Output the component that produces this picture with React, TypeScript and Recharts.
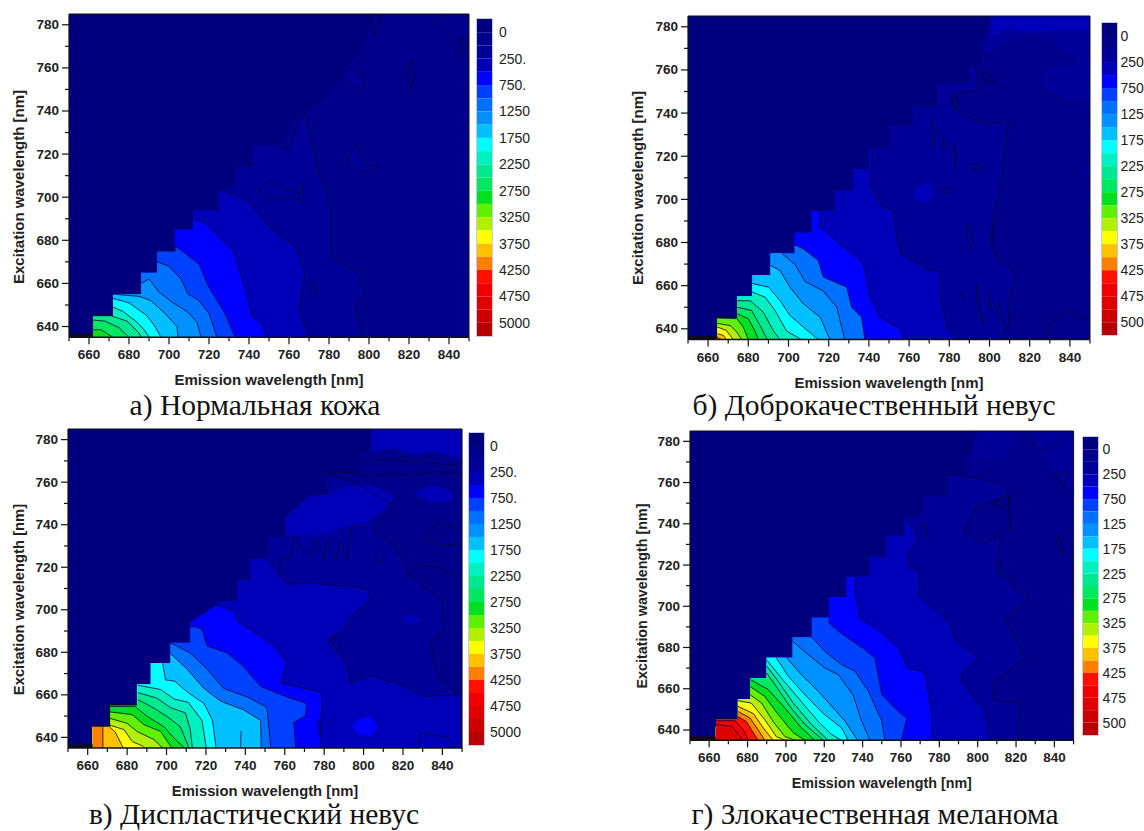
import { Area, Bar, BarChart, ComposedChart, Line, ReferenceLine, XAxis, YAxis } from 'recharts';

// colour of each contour band, top of the colour scale first
const bandColors = [
  '#00007f', '#00008a', '#000098', '#0000b8', '#0000ff', '#0040ff', '#0070ff', '#0090ff',
  '#00c0ff', '#00ffff', '#00f0c0', '#00e890', '#00e860', '#00e020', '#60f000', '#b0f000',
  '#ffff00', '#ffc000', '#ff8000', '#ff1000', '#f00000', '#e00000', '#cc0000', '#b40000',
];
const scaleTicks = [1, 3, 5, 7, 9, 11, 13, 15, 17, 19, 21, 23];
const scaleLabelsLong = ['0', '250.', '750.', '1250', '1750', '2250', '2750', '3250', '3750', '4250', '4750', '5000'];
const scaleLabelsShort = ['0', '250', '750', '125', '175', '225', '275', '325', '375', '425', '475', '500'];
const emissionTicks = [650, 660, 670, 680, 690, 700, 710, 720, 730, 740, 750, 760, 770, 780, 790, 800, 810, 820, 830, 840, 850];
const excitationTicks = [640, 650, 660, 670, 680, 690, 700, 710, 720, 730, 740, 750, 760, 770, 780];

// [emission, excitation] edge of the measured region
const stairA = [[662, 635], [662, 645], [672, 645], [672, 655], [686, 655], [686, 665], [694, 665], [694, 675], [703, 675], [703, 685], [712, 685], [712, 694], [725, 694], [725, 704], [733, 704], [733, 714], [742, 714], [742, 724], [755, 724]];
const stairB = [[664.6, 635], [664.6, 645], [674.5, 645], [674.5, 655], [682, 655], [682, 665], [691, 665], [691, 675], [703, 675], [703, 684.5], [711.5, 684.5], [711.5, 695], [723, 695], [723, 704], [732, 704], [732, 714], [740, 714], [740, 724], [750.5, 724], [750.5, 734], [762, 734], [762, 743], [774, 743], [774, 754], [790, 754], [790, 763], [796, 763], [796, 772], [801, 772], [801, 785]];
const stairC = [[662.5, 635], [662.5, 645], [671, 645], [671, 655], [685, 655], [685, 665], [692, 665], [692, 675], [702, 675], [702, 684.5], [712, 684.5], [712, 694], [726, 694], [726, 704], [736, 704], [736, 714], [742.5, 714], [742.5, 724], [751, 724], [751, 734], [760.5, 734], [760.5, 744], [772, 744], [772, 754], [781.5, 754], [781.5, 764], [798, 764], [798, 774.5], [804, 774.5], [804, 785]];
const stairD = [[663.4, 635], [663.6, 645], [675, 645], [675, 655], [681.5, 655], [681.5, 665], [690, 665], [690, 675], [703.5, 675], [703.5, 685], [713.5, 685], [713.5, 694.5], [722.5, 694.5], [722.5, 704.5], [731.7, 704.5], [731.7, 714.5], [743.8, 714.5], [743.8, 724], [752.5, 724], [752.5, 734], [762, 734], [762, 743.6], [771, 743.6], [771, 753.5], [784.5, 753.5], [784.5, 764], [793.5, 764], [793.5, 773.5], [800.3, 773.5], [800.3, 785]];

// [band, points]: the first point sits on the stair, the rest follow the contour down to the axis
const contoursA: [number, number[][]][] = [
  [1, [[755, 724], [762, 735], [778, 745], [785, 755], [797, 770], [803, 785], [850, 785], [850, 635]]],
  [2, [[755, 724], [760, 722], [765, 735], [768, 739], [771, 728], [775, 710], [778, 705], [781, 693], [781, 674], [785, 670], [794, 665], [798, 655], [793, 648], [797, 635]]],
  [3, [[725, 704], [733, 701], [741, 697], [749, 687], [763, 677], [768, 665], [765, 649], [769, 637], [769, 635]]],
  [4, [[712, 690], [718, 688], [732, 675], [739, 655], [741, 645], [746, 642], [749, 635]]],
  [5, [[694, 675], [703, 675], [703, 677.5], [709.5, 673], [715, 669], [719.5, 659], [728, 646], [733, 635]]],
  [6, [[694, 670], [700, 668], [706, 662], [709.5, 655], [714.5, 652.5], [720, 646], [724, 635]]],
  [7, [[686, 660], [690, 662], [695, 656], [702, 651], [709, 647], [714, 642], [716, 635]]],
  [8, [[672, 655], [685, 654], [691, 652], [698, 646], [704, 640], [704.5, 635]]],
  [9, [[672, 653], [680, 651], [689, 645], [693, 640], [696, 635]]],
  [10, [[672, 649], [677, 647], [684, 642], [688, 638], [690, 635]]],
  [11, [[662, 645], [671, 645], [679, 642.5], [685, 637], [686, 635]]],
  [12, [[662, 643], [668, 642.5], [675, 639.5], [680, 635]]],
  [13, [[662, 638.5], [666, 638.5], [672, 635]]],
];
const contoursB: [number, number[][]][] = [
  [1, [[801, 785], [850, 785], [850, 635]]],
  [2, [[790, 763], [793.6, 761.4], [794.4, 750.5], [783.7, 749], [780.3, 744.4], [788.6, 738.2], [798.6, 735], [809.4, 735.8], [806, 710.3], [802.7, 691.8], [800.2, 682.5], [803.6, 671.7], [808.5, 670.2], [813.5, 664], [810.2, 656.3], [809.4, 642.3], [805.2, 635]]],
  [3, [[740, 724], [742, 724], [740.5, 705.7], [747.2, 696.4], [752.2, 695], [753.8, 682.5], [756.3, 674.8], [768.7, 667.8], [775.4, 666.3], [776.2, 651.6], [778.7, 640.8], [784.5, 635]]],
  [4, [[711.5, 695], [715.7, 695], [715.7, 687], [725.6, 679.4], [737.2, 670.2], [740.5, 654.7], [745.5, 645.4], [756.3, 639.2], [757.5, 635]]],
  [6, [[703, 679], [707.4, 677], [714.8, 671.7], [717.3, 664], [729, 659.3], [731.4, 650], [736.4, 645.4], [738, 635]]],
  [7, [[696.6, 675], [703.2, 670], [708.2, 662], [717.3, 657.5], [724, 650], [728, 635]]],
  [8, [[691, 669.4], [695.8, 667], [700.7, 659.3], [707.4, 651.6], [715.7, 645.4], [720.6, 635]]],
  [9, [[682, 661], [690, 659.3], [695.8, 653], [700.7, 646.2], [707.4, 640.8], [714.8, 635]]],
  [10, [[682, 657], [688.3, 654.7], [693.3, 648.5], [699, 639], [706.5, 635]]],
  [11, [[674.5, 653], [681, 653], [687.5, 647.7], [692.5, 639], [695.8, 635]]],
  [12, [[674.5, 650], [681.7, 648.5], [685.8, 641.6], [689.5, 635]]],
  [13, [[674.5, 647], [680, 644.7], [683.3, 639], [685, 635]]],
  [14, [[664.6, 645], [674.3, 644.7], [677.5, 640.8], [680, 635]]],
  [15, [[664.6, 642.5], [671, 641.5], [674.3, 638.5], [676.7, 635]]],
  [16, [[664.6, 640.8], [669, 639.3], [672.5, 635]]],
  [17, [[664.6, 637.7], [667.6, 637], [669, 635]]],
  [18, [[664.6, 636], [666.8, 635]]],
];
const contoursC: [number, number[][]][] = [
  [1, [[804, 785], [850, 785], [850, 635]]],
  [2, [[781.5, 764], [795, 760], [815, 749], [805, 738], [815, 730], [825, 715], [840, 704], [841, 691], [834, 685], [837, 669], [850, 658], [850, 635]]],
  [3, [[751, 724], [757, 717], [761, 712], [773, 712.5], [791.7, 711], [802, 709.5], [803.5, 704.7], [793.4, 697], [790, 690.6], [782, 686], [786, 681.3], [790, 676.5], [793.4, 665.6], [803.5, 669], [821, 664], [830.6, 659.3], [850, 660], [850, 635]]],
  [4, [[725.7, 702.4], [734, 699.3], [736.7, 694], [747.7, 687.5], [754.5, 683], [761, 675], [758, 665.6], [779, 661], [778, 636], [778, 635]]],
  [5, [[712, 692], [714.7, 692], [718, 690.7], [720.6, 683], [730.8, 679.7], [739, 673.4], [747.7, 664], [761, 659], [771, 656], [770.5, 650], [764.6, 647], [765.5, 636], [765.5, 635]]],
  [6, [[702, 684.4], [712, 679.7], [720.6, 672], [729, 663], [741, 659], [751, 654], [752.8, 636], [752.8, 635]]],
  [8, [[702, 679.4], [710.5, 672], [719, 663], [727.5, 657], [739, 653], [747.7, 648], [748, 636], [748, 635]]],
  [9, [[698, 675], [699.5, 667], [704, 666.5], [711, 661], [719, 656], [723.3, 648], [725, 636], [725, 635]]],
  [10, [[685.5, 664.5], [697, 662.5], [704, 658], [711, 656.5], [718, 648], [720, 636], [720, 635]]],
  [11, [[685.5, 661], [695, 658.5], [702, 654], [709.6, 651.5], [712, 644], [713, 636], [713, 635]]],
  [12, [[685.5, 657.7], [692, 654.6], [700, 650], [707, 645], [711, 636], [711, 635]]],
  [13, [[671, 654.5], [684, 654.5], [690, 650], [698.7, 645], [704.5, 639], [708, 636], [709, 635]]],
  [14, [[671, 652], [682.6, 650.7], [688.5, 646], [697, 642.8], [702, 636], [703, 635]]],
  [15, [[671, 649], [680, 646.6], [685, 642.8], [693.5, 639], [697, 636], [698, 635]]],
  [16, [[671, 645.8], [678.5, 643.6], [682.6, 638], [687.7, 636], [689, 635]]],
  [17, [[671, 645], [674, 642.5], [677.5, 636], [678, 635]]],
  [18, [[667.7, 645], [667.7, 635]]],
];
const contoursD: [number, number[][]][] = [
  [1, [[800.3, 785], [850, 785], [850, 635]]],
  [2, [[784.5, 764], [789, 763.8], [811.6, 759.8], [816, 755.7], [812.5, 751.7], [799.5, 748.5], [792.5, 736.4], [802, 729.9], [811.6, 734.6], [810, 717], [826.4, 704], [814.3, 693.8], [824.6, 675], [808, 662.8], [808, 654.7], [822, 653], [821, 635]]],
  [3, [[762, 743.6], [767, 736], [769, 733], [763, 725], [764.8, 718.6], [769.9, 717], [769, 705.6], [784.7, 692.7], [789, 683], [800.3, 675], [791.6, 667.6], [791.6, 663.7], [803.8, 649], [806.4, 635]]],
  [4, [[731.7, 714.5], [736, 714.5], [736, 705.6], [738.6, 694.3], [749, 687.9], [758.6, 679.8], [763.8, 670], [772.5, 667.7], [776, 647.5], [776.3, 635]]],
  [5, [[722.5, 694.5], [722.5, 691.9], [727.3, 687.9], [741, 679], [746.4, 675], [750, 657.1], [758.6, 649], [763, 645.8], [760.3, 635]]],
  [6, [[713.5, 685], [720.4, 678], [729, 671.7], [736, 668.5], [743, 658.8], [750, 644.3], [751.6, 635]]],
  [7, [[703.5, 683], [711.7, 676.5], [720.4, 670], [727.3, 666.9], [735, 657], [739.5, 644.3], [743.8, 635]]],
  [8, [[700.4, 675], [708, 666.9], [716.9, 658.8], [724.7, 650.7], [730.8, 644.3], [737.4, 635]]],
  [9, [[695, 675], [701.3, 666], [710, 657], [719.5, 648], [729, 641], [732.5, 635]]],
  [10, [[690, 674], [697.8, 665], [706.5, 655.5], [717, 644], [723.8, 637.8], [729, 635]]],
  [11, [[690, 671], [696, 663.6], [703.9, 653], [713.4, 642.6], [722, 635]]],
  [12, [[690, 667.6], [694.3, 662], [702, 651.5], [710, 642.6], [719.5, 635]]],
  [13, [[681.5, 664.4], [690.8, 659.6], [699.5, 650.7], [707.3, 641.8], [715, 635]]],
  [14, [[681.5, 661], [689, 656.3], [696, 647.5], [703.9, 638.6], [710, 635]]],
  [15, [[681.5, 657], [687.4, 653], [693.4, 644], [699.5, 636.8], [704.7, 635]]],
  [16, [[675, 654.2], [682, 653], [689, 645], [695, 636.8], [699.5, 635]]],
  [17, [[675, 651.5], [683, 648], [688.2, 641], [693.4, 635]]],
  [18, [[675, 649], [681.3, 645.8], [685.6, 640], [689, 635]]],
  [19, [[675, 646.5], [679.5, 644], [683, 638.6], [685.6, 635]]],
  [20, [[663.6, 644.5], [673.5, 644.5], [678.3, 639.4], [680.4, 635]]],
  [21, [[663.6, 642.6], [671.7, 641.8], [676, 637], [677, 635]]],
];

// [band, [emission, lower excitation, upper excitation]]: patches away from the main contours
const patchesA: [number, number[][]][] = [
  [2, [[786, 755, 755], [790, 752, 760], [797, 749, 757], [798, 753, 753]]],
  [2, [[789, 716, 716], [793, 712, 724], [799, 712, 715], [805, 714, 714]]],
];
const patchesB: [number, number[][]][] = [
  [2, [[796.9, 769, 772], [801, 768, 785], [807.7, 772, 785], [821.8, 776, 785], [830, 773.7, 785], [841.7, 766, 785], [845, 764.4, 785], [849.5, 767.5, 785]]],
  [3, [[801, 776, 785], [809.3, 779, 785], [821.8, 777.6, 785], [831.8, 778.4, 785], [849.5, 778.4, 785]]],
  [2, [[826, 755, 756], [830, 750.5, 761.5], [840, 746, 761.5], [848, 746, 768], [849.5, 746, 768]]],
  [2, [[847, 711, 712], [849.5, 712, 721]]],
  [3, [[762, 703, 703], [764, 699, 706], [770, 699, 708], [772, 702, 705]]],
];
const patchesC: [number, number[][]][] = [
  [3, [[804, 774.5, 785], [815, 776, 785], [825, 773, 785], [835.7, 774.5, 785], [849.5, 771, 785]]],
  [3, [[760.5, 735.3, 743.6], [772.2, 734.5, 753.3], [781.5, 736, 754], [790, 739.2, 758], [801.9, 740, 758.8], [808.6, 745.5, 756.5], [815.4, 753, 754]]],
  [3, [[825.5, 754.5, 754.5], [835, 750.5, 758.6], [844, 751, 756], [845.5, 753, 753]]],
  [4, [[794, 645.5, 645.5], [798, 641, 649], [804, 641, 650], [807, 645, 645]]],
  [3, [[819.6, 695.5, 695.5], [824, 693, 698], [830, 695.5, 695.5]]],
];
const patchesD: [number, number[][]][] = [
  [2, [[797, 766, 773.5], [800.3, 772, 785], [808, 771, 785], [815, 774, 785], [820, 779, 785]]],
  [2, [[830, 779, 782], [837, 770, 785], [843, 762, 785], [850, 755, 785]]],
];

// thin isolines that close on themselves or run alone
const linesA = [
  [[786, 755], [790, 760], [797, 757], [797, 749], [792, 752], [786, 755]],
  [[819, 757], [821, 763], [823, 757], [821, 750], [819, 757]],
  [[789, 716], [793, 724], [799, 715], [805, 714], [797, 712], [789, 716]],
  [[745, 703], [750, 708], [758, 704], [765, 702], [767, 706], [767, 698], [762, 700], [752, 699], [745, 703]],
  [[770, 662], [772, 661], [774, 656], [771, 654], [770, 662]],
  [[800, 785], [803, 775], [806, 785]],
  [[832, 780], [838, 785]],
  [[846, 775], [850, 770], [845, 765], [846, 775]],
];
const linesB = [
  [[781, 747], [783, 749], [784.5, 744], [782.5, 741], [781, 747]],
  [[771, 736.5], [773.6, 730], [771.8, 725], [771, 736.5]],
  [[777, 729], [778, 726], [777, 723], [777, 729]],
  [[782, 726], [784, 720], [783, 714], [782, 726]],
  [[790, 716.5], [794, 716], [798.5, 714.5], [792, 713.5], [790, 716.5]],
  [[776, 704], [780, 705.7], [781, 703.5], [777, 702.6], [776, 704]],
  [[789, 688.7], [792, 682], [790.5, 676.4], [789, 682], [789, 688.7]],
  [[755.5, 679], [756, 674]],
  [[802, 692], [801, 680]],
  [[793.6, 661], [797, 642], [794, 650], [793.6, 661]],
  [[786.5, 657], [788, 653], [786, 655], [786.5, 657]],
  [[800, 656], [801.5, 648], [799.5, 651], [800, 656]],
  [[804.5, 653], [807.7, 642], [804, 647], [804.5, 653]],
  [[828.4, 635], [828.4, 641], [838, 648.5], [846.7, 644.7], [849.5, 645.5]],
  [[796, 760], [798, 754], [802.7, 755], [799, 758], [796, 760]],
];
const linesC = [
  [[757, 717], [757.9, 724.3], [763, 724.3], [764.6, 734.5], [768.9, 728.3], [774, 726], [776.5, 733], [779.9, 723.6], [781.5, 733], [785.8, 723.6], [788.3, 732.2], [791.7, 723.6], [794.2, 739.2], [802, 741], [808.6, 745.5]],
  [[782, 684], [785, 687], [789, 684], [785, 680], [782, 684]],
  [[805, 725], [808, 728], [811, 725], [808, 721], [805, 725]],
  [[830, 733], [838, 741], [849, 738]],
  [[830, 733], [839, 730], [849, 731]],
  [[820, 714], [828, 721], [838, 720], [846, 716]],
  [[828, 636], [829, 642], [843, 640], [846, 636]],
  [[781.5, 764], [792, 764.5], [802, 763], [815, 764], [825, 763], [835.7, 765], [849.5, 764]],
  [[800, 770], [815, 770.5], [832, 769], [849, 768]],
  [[737.6, 635.5], [737.8, 643]],
  [[777.5, 641], [778.5, 645], [777, 648], [777.5, 641]],
];
const linesD = [
  [[815, 754], [818, 751], [813, 748], [806, 750], [815, 754]],
  [[816, 754], [817, 736], [816.5, 745], [816, 754]],
  [[842, 735], [845, 725], [841, 730], [842, 735]],
  [[840, 764], [845, 758], [847, 765], [840, 764]],
  [[770, 738], [773, 741], [774, 734], [771, 734], [770, 738]],
  [[812, 722], [812.5, 714]],
  [[826, 780], [836, 775], [845, 782]],
];

// dark edge along the lowest stair steps
const stripA = [[650, 636], [662, 636]];
const stripB = [[650, 636], [664.6, 636]];
const stripC = [[650, 636], [662.5, 636]];
const stripD = [[650, 636], [663.4, 636]];
const edgeA = [[662, 645.3], [672, 645.3]];
const edgeB = [[664.6, 645.4], [674.5, 645.4]];
const edgeC = [[662.5, 645.4], [671, 645.4], [671, 655.3], [685, 655.3]];
const edgeD = [[663.6, 645.4], [675, 645.4]];

const SANS = '"Liberation Sans", Arial, sans-serif';
const LINE = '#05053c';

function levelPoints(stair: number[][], contour: number[][]) {
  const [sx, sy] = contour[0];
  const lead = stair.filter(([x, y]) => x <= sx && y <= sy);
  return [...lead, ...contour].map(([x, y]) => ({ x, y }));
}

const toXY = (pts: number[][]) => pts.map(([x, y]) => ({ x, y }));
const toRange = (pts: number[][]) => pts.map(([x, lo, hi]) => ({ x, y: [lo, hi] }));

function EmissionTick({ x, y, payload }: any) {
  const major = (payload.value - 660) % 20 === 0;
  return (
    <g>
      <line x1={x} x2={x} y1={y} y2={y + (major ? 7 : 4)} stroke="#111" strokeWidth={1.2} />
      {major && (
        <text x={x} y={y + 22} textAnchor="middle" fontSize={13.5} fontWeight="bold" fontFamily={SANS} fill="#222">
          {payload.value}
        </text>
      )}
    </g>
  );
}

function ExcitationTick({ x, y, payload }: any) {
  const major = (payload.value - 640) % 20 === 0;
  return (
    <g>
      <line x1={x} x2={x - (major ? 7 : 4)} y1={y} y2={y} stroke="#111" strokeWidth={1.2} />
      {major && (
        <text x={x - 10} y={y + 4.5} textAnchor="end" fontSize={13.5} fontWeight="bold" fontFamily={SANS} fill="#222">
          {payload.value}
        </text>
      )}
    </g>
  );
}

const scaleRow = [Object.fromEntries(bandColors.map((_, i) => [`b${i}`, 1]))];

function ColorScale({ left, top, height, clip, labelAt, labels }: any) {
  const barWidth = 15;
  return (
    <div style={{ position: 'absolute', left, top, width: clip - left, height }}>
      <BarChart width={clip - left} height={height} data={scaleRow} margin={{ top: 0, right: 0, bottom: 0, left: 0 }} barCategoryGap={0}>
        <XAxis hide />
        <YAxis
          orientation="right"
          reversed
          width={clip - left - barWidth}
          domain={[0, 24]}
          ticks={scaleTicks}
          interval={0}
          axisLine={false}
          tickLine={false}
          tickSize={0}
          tickMargin={labelAt - left - barWidth}
          tickFormatter={(v: number) => labels[scaleTicks.indexOf(v)]}
          tick={{ fontSize: 14, fill: '#222', fontFamily: SANS, textAnchor: 'start' }}
        />
        {bandColors.map((c, i) => (
          <Bar key={i} dataKey={`b${i}`} stackId="scale" fill={c} isAnimationActive={false} />
        ))}
      </BarChart>
      <div style={{ position: 'absolute', left: -1, top: -1, width: barWidth, height, border: '1px solid #c4cce4', pointerEvents: 'none' }} />
    </div>
  );
}

function Panel({ box, stair, contours, patches, lines, strip, edge, stripColor, yTitleX, yTitleY, titleSize, scale, caption, captionX, captionY }: any) {
  const { l, r, t, b } = box;
  const padLeft = 62;
  const padTop = 6;
  const padRight = 6;
  const padBottom = 56;
  const w = r - l + padLeft + padRight;
  const h = b - t + padTop + padBottom;
  return (
    <>
      <div style={{ position: 'absolute', left: l - padLeft, top: t - padTop }}>
        <ComposedChart width={w} height={h} margin={{ top: padTop, right: padRight, bottom: 0, left: 0 }}>
          <XAxis
            dataKey="x"
            type="number"
            domain={[650, 850]}
            ticks={emissionTicks}
            interval={0}
            height={padBottom}
            tickSize={0}
            tickMargin={0}
            tickLine={false}
            axisLine={{ stroke: '#111', strokeWidth: 1.5 }}
            tick={EmissionTick}
            allowDataOverflow
          />
          <YAxis
            type="number"
            domain={[635, 785]}
            ticks={excitationTicks}
            interval={0}
            width={padLeft}
            tickSize={0}
            tickMargin={0}
            tickLine={false}
            axisLine={{ stroke: '#111', strokeWidth: 1.2 }}
            tick={ExcitationTick}
            allowDataOverflow
          />
          <Area
            data={toXY([[650, 785], [850, 785]])}
            dataKey="y"
            baseValue={635}
            type="linear"
            stroke="none"
            fill={bandColors[0]}
            fillOpacity={1}
            isAnimationActive={false}
          />
          {contours.map(([band, pts]: any, i: number) => (
            <Area
              key={`c${i}`}
              data={levelPoints(stair, pts)}
              dataKey="y"
              baseValue={635}
              type="linear"
              stroke="none"
              fill={bandColors[band]}
              fillOpacity={1}
              dot={false}
              activeDot={false}
              isAnimationActive={false}
            />
          ))}
          {patches.map(([band, pts]: any, i: number) => (
            <Area
              key={`p${i}`}
              data={toRange(pts)}
              dataKey="y"
              type="linear"
              stroke="none"
              fill={bandColors[band]}
              fillOpacity={1}
              dot={false}
              activeDot={false}
              isAnimationActive={false}
            />
          ))}
          {contours
            .filter(([band]: any) => band > 1)
            .map(([, pts]: any, i: number) => (
              <Line
                key={`k${i}`}
                data={toXY(pts)}
                dataKey="y"
                type="linear"
                stroke={LINE}
                strokeWidth={0.8}
                dot={false}
                activeDot={false}
                isAnimationActive={false}
              />
            ))}
          {lines.map((pts: any, i: number) => (
            <Line
              key={`l${i}`}
              data={toXY(pts)}
              dataKey="y"
              type="linear"
              stroke={LINE}
              strokeWidth={0.8}
              dot={false}
              activeDot={false}
              isAnimationActive={false}
            />
          ))}
          <Line data={toXY(strip)} dataKey="y" type="linear" stroke={stripColor} strokeWidth={3} dot={false} activeDot={false} isAnimationActive={false} />
          <Line data={toXY(edge)} dataKey="y" type="linear" stroke="#0a0a20" strokeWidth={1.5} dot={false} activeDot={false} isAnimationActive={false} />
          <ReferenceLine y={785} stroke="#111" strokeWidth={1.2} />
          <ReferenceLine x={850} stroke="#111" strokeWidth={1} />
          <text x={padLeft + (r - l) / 2} y={b - t + padTop + 48} textAnchor="middle" fontSize={titleSize} fontWeight="bold" fontFamily={SANS} fill="#222">
            Emission wavelength [nm]
          </text>
          <text
            transform={`translate(${yTitleX - (l - padLeft)},${padTop + yTitleY}) rotate(-90)`}
            textAnchor="middle"
            fontSize={titleSize}
            fontWeight="bold"
            fontFamily={SANS}
            fill="#222"
          >
            Excitation wavelength [nm]
          </text>
        </ComposedChart>
      </div>
      <ColorScale {...scale} />
      <div
        style={{
          position: 'absolute',
          left: captionX - 250,
          width: 500,
          top: captionY,
          textAlign: 'center',
          fontFamily: '"Liberation Serif", "Times New Roman", serif',
          fontSize: 29.5,
          lineHeight: '33px',
          color: '#111',
          whiteSpace: 'nowrap',
        }}
      >
        {caption}
      </div>
    </>
  );
}

export default function App() {
  return (
    <div style={{ position: 'absolute', left: 0, top: 0, width: 1144, height: 831, overflow: 'hidden', background: '#fff' }}>
      <Panel
        box={{ l: 69.3, r: 469.3, t: 14, b: 337.3 }}
        stair={stairA}
        contours={contoursA}
        patches={patchesA}
        lines={linesA}
        strip={stripA}
        edge={edgeA}
        stripColor="#0a0a20"
        yTitleX={24}
        yTitleY={173}
        titleSize={15}
        scale={{ left: 477, top: 19, height: 317, clip: 532, labelAt: 499, labels: scaleLabelsLong }}
        caption="а) Нормальная кожа"
        captionX={255}
        captionY={389}
      />
      <Panel
        box={{ l: 688, r: 1090, t: 15.7, b: 339.3 }}
        stair={stairB}
        contours={contoursB}
        patches={patchesB}
        lines={linesB}
        strip={stripB}
        edge={edgeB}
        stripColor="#0a0a20"
        yTitleX={643}
        yTitleY={172}
        titleSize={15}
        scale={{ left: 1102, top: 22.7, height: 312.3, clip: 1144, labelAt: 1120.5, labels: scaleLabelsShort }}
        caption="б) Доброкачественный невус"
        captionX={874}
        captionY={389}
      />
      <Panel
        box={{ l: 67.5, r: 461.6, t: 429.3, b: 748.3 }}
        stair={stairC}
        contours={contoursC}
        patches={patchesC}
        lines={linesC}
        strip={stripC}
        edge={edgeC}
        stripColor="#0a0a20"
        yTitleX={23.5}
        yTitleY={170.5}
        titleSize={14.8}
        scale={{ left: 469, top: 433, height: 312, clip: 522, labelAt: 490, labels: scaleLabelsLong }}
        caption="в) Диспластический невус"
        captionX={254}
        captionY={798}
      />
      <Panel
        box={{ l: 690, r: 1073.6, t: 431, b: 740.3 }}
        stair={stairD}
        contours={contoursD}
        patches={patchesD}
        lines={linesD}
        strip={stripD}
        edge={edgeD}
        stripColor="#200808"
        yTitleX={647}
        yTitleY={165}
        titleSize={14.3}
        scale={{ left: 1083, top: 437, height: 298, clip: 1130, labelAt: 1102.6, labels: scaleLabelsShort }}
        caption="г) Злокачественная меланома"
        captionX={875}
        captionY={798}
      />
    </div>
  );
}
